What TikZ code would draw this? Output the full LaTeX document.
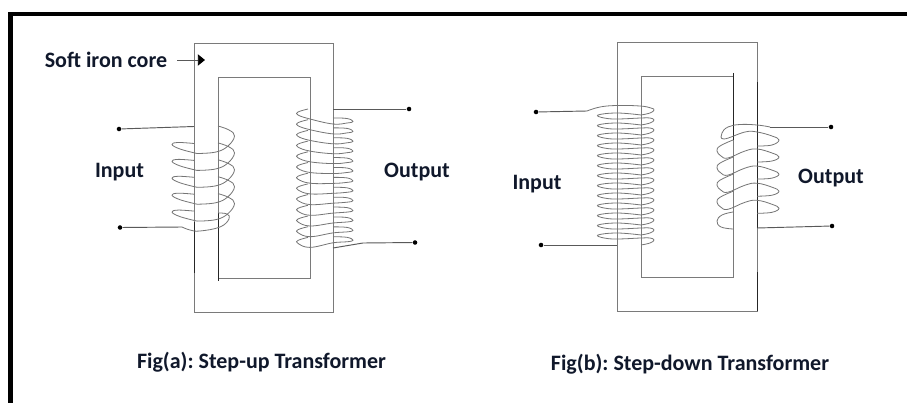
\documentclass[tikz,border=0pt]{standalone}
\usepackage{fontspec}
\setmainfont{Carlito}
\usetikzlibrary{arrows.meta}
\definecolor{inkc}{HTML}{10182B}
\definecolor{corec}{HTML}{7A7A7A}
\definecolor{coilc}{HTML}{757575}
\frenchspacing
\tikzset{
  x=0.75pt,y=-0.75pt,
  frameline/.style={line width=3.5pt,black},
  coreline/.style={line width=0.7pt,corec},
  darkline/.style={line width=0.7pt,black!85},
  coil/.style={line width=0.6pt,coilc,line join=round},
  wire/.style={line width=0.7pt,black!65},
  terminal/.style={circle,fill=black,inner sep=0pt,minimum size=3.4pt},
  lbl/.style={font=\bfseries\fontsize{16.5pt}{18pt}\selectfont,text=inkc,inner sep=0pt},
}
\begin{document}
\begin{tikzpicture}
\useasboundingbox (0,0) rectangle (907,403);
\fill[white] (0,0) rectangle (907,403);
\draw[frameline] (10.3,403) -- (10.3,14) -- (907,14);

% ---------- Fig (a) core
\draw[coreline] (194,43) rectangle (333,312);
\draw[coreline] (218,77) rectangle (310,278);
\draw[darkline] (194,222) -- (194,273);
\draw[darkline] (218,213) -- (218,281);

% Fig (a) primary
\foreach \i in {0,...,4}{
  \pgfmathsetmacro\R{136+\i*16.9}
  \pgfmathsetmacro\Ra{\R-10}
  \pgfmathsetmacro\Rb{\R+10}
  \pgfmathsetmacro\Rc{\R+17.5}
  \pgfmathsetmacro\Rd{\R+13}
  \pgfmathsetmacro\Re{\R+8.5}
  \pgfmathsetmacro\Rf{\R+6.5}
  \draw[coil] plot[smooth,tension=0.7] coordinates {(218,\Ra) (229,{\R-6}) (234.5,\R) (228,\Rb) (216,\Rd+3) (197,\Rc)};
  \draw[coil] plot[smooth,tension=0.7] coordinates {(197,\Rc) (180,\Rd) (172,\Re) (178,\Rf) (194,\Re-1)};
}
% last turn of primary
\draw[coil] plot[smooth,tension=0.7] coordinates {(218,213) (227,214) (229,219) (220,227) (200,231) (190,230) (182,227)};

% Fig (a) secondary
\foreach \i in {0,...,12}{
  \pgfmathsetmacro\L{113+\i*10.7}
  \pgfmathsetmacro\R{121.5+\i*9.9}
  \draw[coil] plot[smooth,tension=0.7] coordinates {(308,{\L-4}) (298,{\L-1}) (298,{\L+2}) (310,{\L+6}) (333,{\R+2.5}) (347,{\R+1.5}) (353,\R) (347,{\R-3}) (333,{\R-3.5})};
}

% ---------- Fig (b) core
\draw[coreline] (617,42) rectangle (757,311);
\draw[coreline] (641,76) rectangle (733,277);
\draw[darkline] (733,73) -- (733,140);
\draw[darkline] (757,82) -- (757,228);
\draw[darkline] (757,272) -- (757,311);

% Fig (b) primary
\foreach \i in {0,...,12}{
  \pgfmathsetmacro\R{110+\i*10}
  \pgfmathsetmacro\N{\R+10}
  \draw[coil] plot[smooth,tension=0.7] coordinates {(641,{\R+5}) (617,{\R+3}) (598,{\R+5}) (604,{\R+8}) (617,{\R+9}) (641,{\N-2}) (650,{\N-2}) (654,\N) (650,{\N+3}) (641,{\N+5})};
}
\draw[coil] plot[smooth,tension=0.7] coordinates {(587,111) (600,107) (617,105.5) (640,106) (651,108) (654,110) (650,113) (641,115)};

% Fig (b) secondary
\foreach \i in {0,...,3}{
  \pgfmathsetmacro\T{132+\i*17.1}
  \draw[coil] plot[smooth,tension=0.7] coordinates {(733,{\T+8}) (720,{\T+14}) (717,{\T+19}) (721,{\T+24}) (728,{\T+26}) (745,{\T+19}) (757,{\T+17}) (772,{\T+21}) (779,{\T+25}) (772,{\T+29}) (757,{\T+30})};
}
\draw[coil] plot[smooth,tension=0.7] coordinates {(770,127) (757,125) (740,124.5) (728,127) (722,133) (724,139) (745,132) (757,132) (772,136) (779,140) (772,145) (757,146)};
\draw[coil] plot[smooth,tension=0.7] coordinates {(733,212) (722,215) (717,221) (721,227) (733,229)};

% ---------- terminals and wires
\node[terminal] (ta1) at (119,129) {};
\node[terminal] (ta2) at (120,227.5) {};
\node[terminal] (ta3) at (409,109) {};
\node[terminal] (ta4) at (415,242.5) {};
\node[terminal] (tb1) at (536,112) {};
\node[terminal] (tb2) at (541,245) {};
\node[terminal] (tb3) at (831,127) {};
\node[terminal] (tb4) at (832,226) {};
\coordinate (ca1) at (194,126.5);
\coordinate (ca2) at (182,227);
\coordinate (ca3) at (333,109);
\coordinate (ca4) at (363,243);
\coordinate (ca5) at (333,248);
\coordinate (cb1) at (587,111);
\coordinate (cb2) at (617,245);
\coordinate (cb3) at (770,127);
\coordinate (cb4) at (757,228);
\draw[wire] (ta1) -- (ca1);
\draw[wire] (ta2) -- (ca2);
\draw[wire] (ta3) -- (ca3);
\draw[wire] (ta4) -- (ca4) -- (ca5);
\draw[wire] (tb1) -- (cb1);
\draw[wire] (tb2) -- (cb2);
\draw[wire] (tb3) -- (cb3);
\draw[wire] (tb4) -- (cb4);

% ---------- labels
\node[lbl] (soft) at (106,59.5) {Soft iron core};
\node[lbl] (ina) at (119.5,172) {Input};
\node[lbl] (outa) at (417,172) {Output};
\node[lbl] (inb) at (537,184) {Input};
\node[lbl] (outb) at (831,178) {Output};
\node[lbl] (figa) at (261.5,362) {Fig(a): Step-up Transformer};
\node[lbl] (figb) at (690,364) {Fig(b): Step-down Transformer};
\coordinate (arrowtip) at (205,60);
\draw[wire,shorten <=7.5pt,-{Triangle[length=5.4pt,width=8.5pt,black]}] (soft.east |- arrowtip) -- (arrowtip);
\end{tikzpicture}
\end{document}
